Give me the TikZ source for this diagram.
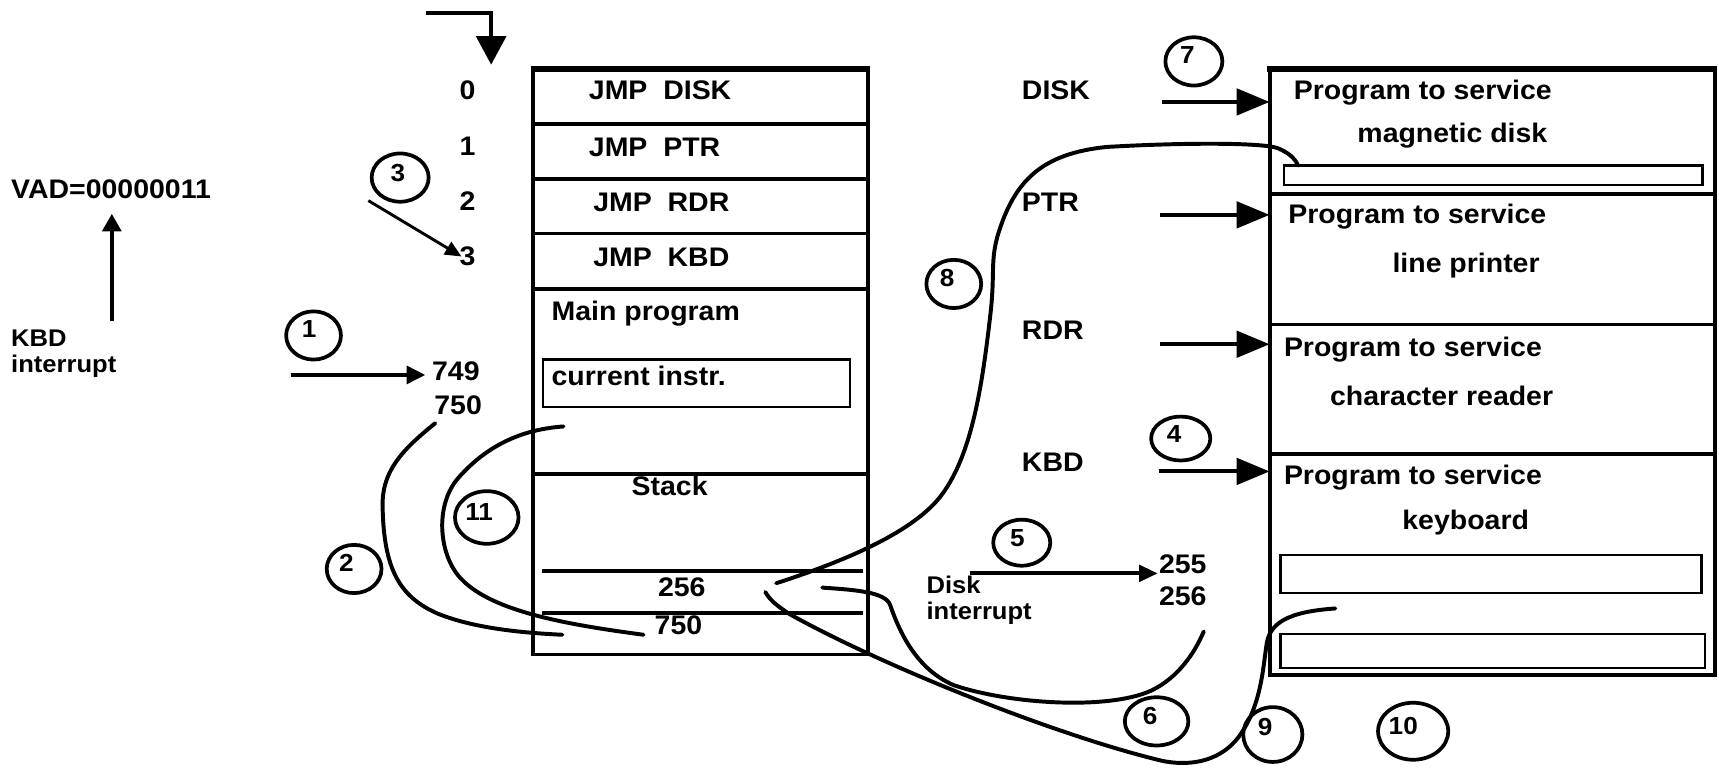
\documentclass[tikz,border=0pt]{standalone}
\usepackage{fontspec}
\setmainfont{Liberation Sans}[FakeStretch=1.06]
\usetikzlibrary{arrows.meta,shapes.geometric}
\begin{document}
\begin{tikzpicture}[x=1pt,y=-1pt,
  txt/.style={font=\bfseries\fontsize{24.5}{28}\selectfont, inner sep=0pt, anchor=base west},
  smalltxt/.style={font=\bfseries\fontsize{22}{26}\selectfont, inner sep=0pt, anchor=base west},
  cnum/.style={font=\bfseries\fontsize{22.5}{26}\selectfont, inner sep=0pt},
  ring/.style={draw, ellipse, line width=3.4pt, inner sep=0pt},
  boxline/.style={line width=3.6pt},
  thickline/.style={line width=5pt},
  thinbox/.style={line width=2pt},
  curve/.style={line width=3.6pt, line cap=round},
  bigarrow/.style={line width=3.6pt, -{Triangle[length=30pt,width=24pt]}},
  smallarrow/.style={line width=3.6pt, -{Triangle[length=17pt,width=16pt]}}]
\useasboundingbox (0,0) rectangle (1568,701);

% ---------- left memory box ----------
\draw[boxline] (486,63) rectangle (792,597);
\draw[thickline] (484,63) -- (794,63);
\foreach \yy in {113,163,213,264,432} \draw[boxline] (486,\yy) -- (792,\yy);
\draw[thinbox] (495,328) rectangle (775,371);
\draw[boxline] (494,521) -- (787,521);
\draw[boxline] (494,559) -- (787,559);

\node[txt] (jd) at (537,91) {JMP\ \ DISK};
\node[txt] (jp) at (537,143) {JMP\ \ PTR};
\node[txt] (jr) at (541,193) {JMP\ \ RDR};
\node[txt] (jk) at (541,243) {JMP\ \ KBD};
\node[txt] (mp) at (503,292) {Main program};
\node[txt] (ci) at (503,352) {current instr.};
\node[txt] (st) at (576,452) {Stack};
\node[txt] (s256) at (600,544) {256};
\node[txt] (s750) at (597,579) {750};

\node[txt] (a0) at (419,91) {0};
\node[txt] (a1) at (419,142) {1};
\node[txt] (a2) at (419,192) {2};
\node[txt] (a3) at (419,242) {3};
\node[txt] (a749) at (394,347) {749};
\node[txt] (a750) at (396,378) {750};

% ---------- left labels ----------
\node[txt] (vad) at (10,181) {VAD=00000011};
\node[smalltxt] (kbd1) at (10,316) {KBD};
\node[smalltxt] (kbd2) at (10,340) {interrupt};
\coordinate (vadfoot) at (102,293);
\coordinate (vadtip) at (102,195);
\draw[line width=3.6pt, -{Triangle[length=16pt,width=17pt]}] (vadfoot) -- (vadtip);

% top entry arrow
\coordinate (ta) at (389,12);
\coordinate (tb) at (448,12);
\coordinate (tc) at (448,59);
\draw[line width=3.6pt, -{Triangle[length=26pt,width=27pt]}] (ta) -- (tb) -- (tc);

% arrow 1
\coordinate (i1a) at (265,342);
\coordinate (i1b) at (388,342);
\draw[smallarrow] (i1a) -- (i1b);

% arrow 3
\coordinate (i3a) at (336,183);
\coordinate (i3b) at (421,234);
\draw[line width=2.6pt, -{Triangle[length=15pt,width=13pt]}] (i3a) -- (i3b);

% ---------- right box ----------
\draw[boxline] (1158,63) rectangle (1564,616);
\draw[thickline] (1156,63) -- (1566,63);
\foreach \yy in {177,296,414} \draw[boxline] (1158,\yy) -- (1564,\yy);
\draw[thinbox] (1171,151) rectangle (1553,169);
\draw[thinbox] (1168,506) rectangle (1552,541);
\draw[thinbox] (1168,578) rectangle (1555,609);

\node[txt] (p1) at (1180,91) {Program to service};
\node[txt] (p1b) at (1238,130) {magnetic disk};
\node[txt] (p2) at (1175,204) {Program to service};
\node[txt] (p2b) at (1270,249) {line printer};
\node[txt] (p3) at (1171,325) {Program to service};
\node[txt] (p3b) at (1213,370) {character reader};
\node[txt] (p4) at (1171,442) {Program to service};
\node[txt] (p4b) at (1279,483) {keyboard};

\node[txt] (ld) at (932,91) {DISK};
\node[txt] (lp) at (932,193) {PTR};
\node[txt] (lr) at (932,310) {RDR};
\node[txt] (lk) at (932,430) {KBD};

\coordinate (dA) at (1060,93);   \coordinate (dB) at (1158,93);
\coordinate (pA) at (1058,196);  \coordinate (pB) at (1158,196);
\coordinate (rA) at (1058,314);  \coordinate (rB) at (1158,314);
\coordinate (kA) at (1057,430);  \coordinate (kB) at (1158,430);
\draw[bigarrow] (dA) -- (dB);
\draw[bigarrow] (pA) -- (pB);
\draw[bigarrow] (rA) -- (rB);
\draw[bigarrow] (kA) -- (kB);

\node[smalltxt] (dk1) at (845,541) {Disk};
\node[smalltxt] (dk2) at (845,565) {interrupt};
\node[txt] (r255) at (1057,523) {255};
\node[txt] (r256) at (1057,552) {256};
\coordinate (i5a) at (885,523);
\coordinate (i5b) at (1056,523);
\draw[line width=3.6pt, -{Triangle[length=17pt,width=15pt]}] (i5a) -- (i5b);

% ---------- curves ----------
% 2 : 750 -> stack
\coordinate (c2s) at (397,386);
\coordinate (c2e) at (513,579);
\draw[curve] (c2s) .. controls (370,408) and (348,428) .. (349,462)
  .. controls (350,520) and (365,545) .. (400,560)
  .. controls (430,572) and (470,577) .. (c2e);

% 11 : stack -> main program
\coordinate (c11s) at (587,579);
\coordinate (c11e) at (514,389);
\draw[curve] (c11s) .. controls (520,570) and (445,558) .. (418,525)
  .. controls (400,503) and (397,460) .. (418,436)
  .. controls (440,411) and (470,392) .. (c11e);

% 8 : stack 256 -> disk routine
\coordinate (c8s) at (708,532);
\coordinate (c8e) at (1184,151);
\draw[curve] (c8s) .. controls (770,512) and (835,485) .. (860,450)
  .. controls (885,415) and (895,360) .. (903,290)
  .. controls (908,250) and (903,240) .. (910,215)
  .. controls (925,165) and (950,140) .. (1010,134)
  .. controls (1080,130) and (1150,130) .. (1165,135)
  .. controls (1175,139) and (1181,144) .. (c8e);

% 6 : stack -> 256
\coordinate (c6s) at (750,536);
\coordinate (c6e) at (1098,576);
\draw[curve] (c6s) .. controls (780,538) and (808,540) .. (812,552)
  .. controls (820,575) and (835,610) .. (870,625)
  .. controls (920,642) and (1010,648) .. (1050,630)
  .. controls (1075,618) and (1090,595) .. (c6e);

% 9 : stack -> keyboard routine
\coordinate (c9s) at (698,540);
\coordinate (c9e) at (1218,555);
\draw[curve] (c9s) .. controls (703,548) and (708,552) .. (720,560)
  .. controls (800,605) and (960,670) .. (1060,694)
  .. controls (1090,700) and (1115,692) .. (1130,672)
  .. controls (1150,645) and (1152,610) .. (1155,590)
  .. controls (1157,568) and (1175,558) .. (c9e);

% ---------- numbered rings ----------
\node[ring, minimum width=50pt, minimum height=44pt] (r1) at (286,306) {};
\node[cnum] (d1) at (282,300) {1};
\node[ring, minimum width=50pt, minimum height=44pt] (r2) at (323,519) {};
\node[cnum] (d2) at (316,513) {2};
\node[ring, minimum width=52pt, minimum height=44pt] (r3) at (365,162) {};
\node[cnum] (d3) at (363,158) {3};
\node[ring, minimum width=54pt, minimum height=40pt] (r4) at (1077,400) {};
\node[cnum] (d4) at (1071,396) {4};
\node[ring, minimum width=52pt, minimum height=42pt] (r5) at (932,495) {};
\node[cnum] (d5) at (928,491) {5};
\node[ring, minimum width=58pt, minimum height=44pt] (r6) at (1055,658) {};
\node[cnum] (d6) at (1049,653) {6};
\node[ring, minimum width=52pt, minimum height=44pt] (r7) at (1089,56) {};
\node[cnum] (d7) at (1083,50) {7};
\node[ring, minimum width=50pt, minimum height=44pt] (r8) at (870,259) {};
\node[cnum] (d8) at (864,254) {8};
\node[ring, minimum width=54pt, minimum height=50pt] (r9) at (1161,670) {};
\node[cnum] (d9) at (1154,663) {9};
\node[ring, minimum width=64pt, minimum height=52pt] (r10) at (1289,667) {};
\node[cnum] (d10) at (1280,662) {10};
\node[ring, minimum width=58pt, minimum height=48pt] (r11) at (444,472) {};
\node[cnum] (d11) at (437,467) {11};
\end{tikzpicture}
\end{document}
